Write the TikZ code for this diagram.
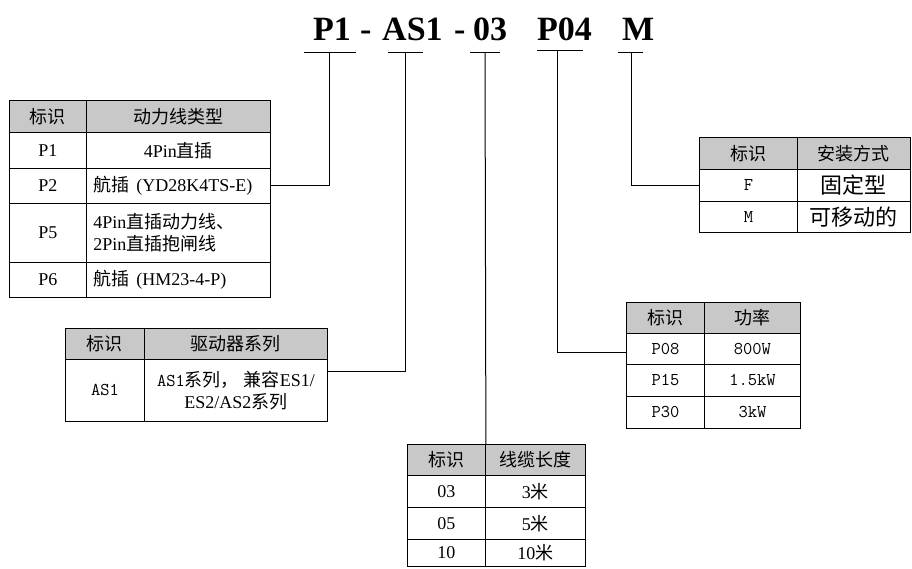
\documentclass[tikz,border=0pt]{standalone}
\usepackage{fontspec}
\setmainfont{Liberation Serif}
\newfontfamily\cjk{Noto Sans CJK SC}
\newcommand\zh[1]{{\cjk #1}}
\newcommand\mono[1]{{\ttfamily #1}}
\definecolor{headgray}{RGB}{200,200,200}
\newcommand\tc[7]{\node[#1, minimum width={(#5-#3)*1pt}, minimum height={(#6-#4)*1pt}] (#2) at (#3,#4) {#7};}
\begin{document}
\begin{tikzpicture}[x=1pt,y=-1pt,
  font=\fontsize{18}{22}\selectfont,
  cell/.style={draw=black, line width=0.9pt, inner sep=0pt, anchor=north west, align=center},
  head/.style={cell, fill=headgray},
  lcell/.style={cell, text width=170pt, inner xsep=7pt, align=left},
  bigcell/.style={cell, font=\fontsize{22}{26}\selectfont},
  conn/.style={line width=1pt, black},
  titletext/.style={inner sep=0pt, anchor=base west, font=\fontsize{34}{40}\selectfont\bfseries}]
\useasboundingbox (0,0) rectangle (912,568);
% title
\node[titletext] (tP1) at (313,40) {P1};
\node[titletext] (td1) at (360,40) {-};
\node[titletext] (tAS1) at (382,40) {AS1};
\node[titletext] (td2) at (454,40) {-};
\node[titletext] (t03) at (473,40) {03};
\node[titletext] (tP04) at (537,40) {P04};
\node[titletext] (tM) at (622,40) {M};
% bars
\coordinate (b1l) at (304,52); \coordinate (b1r) at (356,52); \coordinate (b1) at (329,52);
\coordinate (b2l) at (388,52); \coordinate (b2r) at (423,52); \coordinate (b2) at (405,52);
\coordinate (b3l) at (470,52); \coordinate (b3r) at (500,52); \coordinate (b3) at (485,52);
\coordinate (b4l) at (537,50.5); \coordinate (b4r) at (583,50.5); \coordinate (b4) at (557,50.5);
\coordinate (b5l) at (618,52); \coordinate (b5r) at (643,52); \coordinate (b5) at (631,52);
\foreach \i in {1,...,5} {\draw[conn] (b\i l) -- (b\i r);}
% table 1
\tc{head}{t1h1}{9}{100}{86}{132}{\zh{标识}}
\tc{head}{t1h2}{86}{100}{270}{132}{\zh{动力线类型}}
\tc{cell}{t1a1}{9}{132}{86}{168}{P1}
\tc{cell}{t1a2}{86}{132}{270}{168}{4Pin\zh{直插}}
\tc{cell}{t1b1}{9}{168}{86}{203}{P2}
\tc{lcell}{t1b2}{86}{168}{270}{203}{\zh{航插}\hspace{7pt}(YD28K4TS-E)}
\tc{cell}{t1c1}{9}{203}{86}{262}{P5}
\tc{lcell}{t1c2}{86}{203}{270}{262}{4Pin\zh{直插动力线、}\\2Pin\zh{直插抱闸线}}
\tc{cell}{t1d1}{9}{262}{86}{297}{P6}
\tc{lcell}{t1d2}{86}{262}{270}{297}{\zh{航插}\hspace{7pt}(HM23-4-P)}
% table 2
\tc{head}{t2h1}{65}{328}{144}{359}{\zh{标识}}
\tc{head}{t2h2}{144}{328}{327}{359}{\zh{驱动器系列}}
\tc{cell}{t2a1}{65}{359}{144}{421}{\mono{AS1}}
\tc{cell}{t2a2}{144}{359}{327}{421}{\mono{AS1}\zh{系列，}\hspace{5pt}\zh{兼容}ES1/\\ES2/AS2\zh{系列}}
% table 3
\tc{head}{t3h1}{407}{444}{485}{475}{\zh{标识}}
\tc{head}{t3h2}{485}{444}{585}{475}{\zh{线缆长度}}
\tc{cell}{t3a1}{407}{475}{485}{507}{03}
\tc{cell}{t3a2}{485}{475}{585}{507}{3\zh{米}}
\tc{cell}{t3b1}{407}{507}{485}{539}{05}
\tc{cell}{t3b2}{485}{507}{585}{539}{5\zh{米}}
\tc{cell}{t3c1}{407}{539}{485}{566}{10}
\tc{cell}{t3c2}{485}{539}{585}{566}{10\zh{米}}
% table 4
\tc{head}{t4h1}{626}{302}{704}{333}{\zh{标识}}
\tc{head}{t4h2}{704}{302}{800}{333}{\zh{功率}}
\tc{cell}{t4a1}{626}{333}{704}{364}{\mono{P08}}
\tc{cell}{t4a2}{704}{333}{800}{364}{\mono{800W}}
\tc{cell}{t4b1}{626}{364}{704}{396}{\mono{P15}}
\tc{cell}{t4b2}{704}{364}{800}{396}{\mono{1.5kW}}
\tc{cell}{t4c1}{626}{396}{704}{428}{\mono{P30}}
\tc{cell}{t4c2}{704}{396}{800}{428}{\mono{3kW}}
% table 5
\tc{head}{tmh1}{699}{137}{797}{169}{\zh{标识}}
\tc{head}{tmh2}{797}{137}{910}{169}{\zh{安装方式}}
\tc{cell}{tma1}{699}{169}{797}{201}{\mono{F}}
\tc{bigcell}{tma2}{797}{169}{910}{201}{\zh{固定型}}
\tc{cell}{tmb1}{699}{201}{797}{232}{\mono{M}}
\tc{bigcell}{tmb2}{797}{201}{910}{232}{\zh{可移动的}}
% connectors
\draw[conn] (b1) |- (t1b2.east);
\draw[conn] (b2) |- ([yshift=-12pt]t2a2.north east);
\draw[conn] (b3) -- (t3h1.north east);
\draw[conn] (b4) |- ([yshift=-4pt]t4a1.west);
\draw[conn] (b5) |- (tma1.west);
\end{tikzpicture}
\end{document}
